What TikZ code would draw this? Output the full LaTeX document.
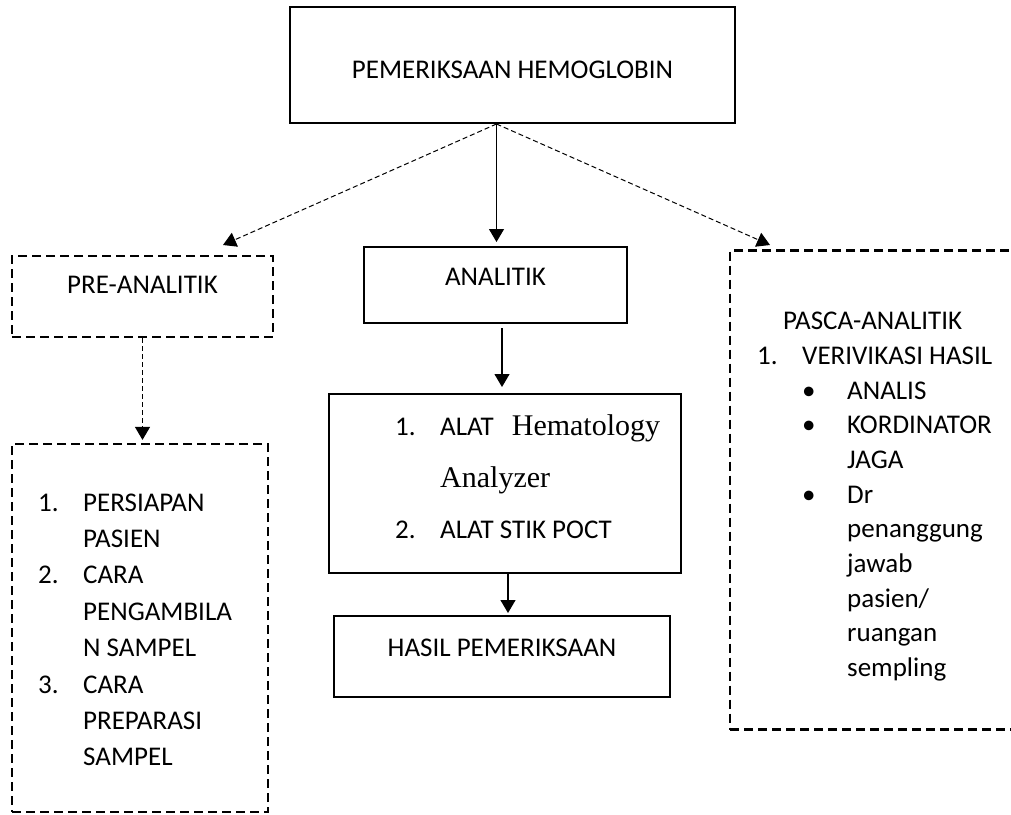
\documentclass[tikz,border=0pt]{standalone}
\usepackage{fontspec}
\setmainfont{Carlito}
\newfontfamily\serifA{Liberation Serif}
\usetikzlibrary{arrows.meta}

\begin{document}
\begin{tikzpicture}[x=1pt,y=-1pt,font=\fontsize{27}{33}\selectfont,
  box/.style={draw,line width=2pt,inner sep=0pt},
  dbox/.style={draw,line width=2.2pt,dash pattern=on 9pt off 5pt,inner sep=0pt},
  arr/.style={-{Triangle[length=13pt,width=15pt]},line width=1.2pt},
  darr/.style={-{Triangle[length=13pt,width=15pt]},line width=1pt,dash pattern=on 5pt off 3pt},
  item/.style={anchor=base west,inner sep=0pt}]
  \useasboundingbox (0,0) rectangle (1011,814);
  % boxes
  \node[box,minimum width=445,minimum height=116,text height=27] (hb) at (512.5,65) {PEMERIKSAAN HEMOGLOBIN};
  \node[dbox,minimum width=261,minimum height=81,text depth=23] (pre) at (142.5,296.5) {PRE-ANALITIK};
  \node[box,minimum width=263,minimum height=76,text depth=16] (ana) at (495.5,285) {ANALITIK};
  \node[dbox,minimum width=285,minimum height=479] (pasca) at (872.5,490) {};
  \node[dbox,minimum width=256,minimum height=368] (prep) at (140,628) {};
  \node[box,minimum width=352,minimum height=179] (alat) at (505,483.5) {};
  \node[box,minimum width=336,minimum height=81,text depth=17] (hasil) at (502,656.5) {HASIL PEMERIKSAAN};
  % list texts
  \foreach \n/\t [count=\i] in {1./PERSIAPAN,{}/PASIEN,2./CARA,{}/PENGAMBILA,{}/N SAMPEL,3./CARA,{}/PREPARASI,{}/SAMPEL}
    \node[item] (prep\i) at (38,{511+36.4*(\i-1)}) {\makebox[45pt][l]{\n}\t};
  \node[item] (al1) at (395,435) {\makebox[45pt][l]{1.}ALAT\hspace{18pt}{\serifA\fontsize{30}{36}\selectfont Hematology}};
  \node[item] (al2) at (440,487) {\serifA\fontsize{30}{36}\selectfont Analyzer};
  \node[item] (al3) at (395,538) {\makebox[45pt][l]{2.}ALAT STIK POCT};
  \node[item] (pasca0) at (783,329) {PASCA-ANALITIK};
  \node[item] (pasca1) at (757,364) {\makebox[45pt][l]{1.}VERIVIKASI HASIL};
  \foreach \n/\t [count=\i] in {\textbullet/ANALIS,\textbullet/KORDINATOR,{}/JAGA,\textbullet/Dr,{}/penanggung,{}/jawab,{}/{pasien/},{}/ruangan,{}/sempling}
    \node[item] (pasca\i b) at (802,{399+34.7*(\i-1)}) {\makebox[45pt][l]{\n}\t};
  % connectors
  \coordinate (hub) at ([xshift=-16]hb.south);
  \coordinate (preend) at (223,245);
  \coordinate (pascaend) at (770,245);
  \draw[arr,shorten >=4pt] (hub) -- (hub |- ana.north);
  \draw[darr] (hub) -- (preend);
  \draw[darr] (hub) -- (pascaend);
  \draw[darr,shorten >=3pt] (pre.south) -- (pre.south |- prep.north);
  \draw[arr,shorten <=4pt,shorten >=6pt] ([xshift=6.5]ana.south) -- ([xshift=6.5]ana.south |- alat.north);
  \draw[arr,shorten >=2pt] ([xshift=3]alat.south) -- ([xshift=3]alat.south |- hasil.north);
\end{tikzpicture}
\end{document}
